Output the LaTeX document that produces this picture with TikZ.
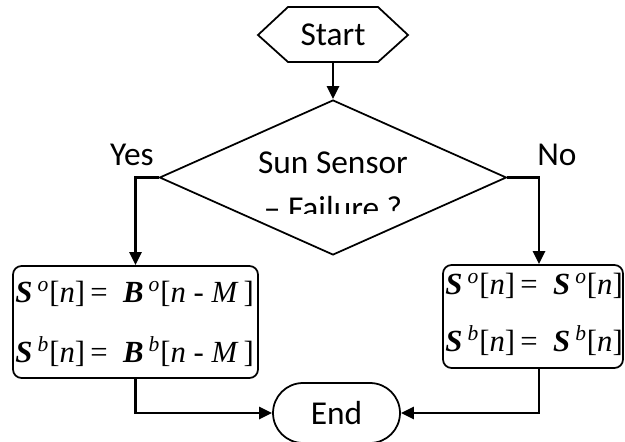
\documentclass[tikz,border=0pt]{standalone}
\usepackage{fontspec}
\setmainfont{Carlito}
\newfontfamily\tnr{Liberation Serif}
\usetikzlibrary{shapes.geometric,shapes.misc,arrows.meta}
\def\bi#1{\textbf{\textit{#1}}}
\def\supr#1{\textsuperscript{\textit{#1}}}
\tikzset{
  box/.style={draw,line width=1pt,rounded corners=0.17cm,inner sep=0pt},
  decision/.style={draw,diamond,line width=1pt,inner sep=0pt},
  term/.style={draw,rounded rectangle,line width=1pt,inner sep=0pt},
  arr/.style={line width=1.6pt,-{Triangle[length=0.26cm,width=0.24cm]}},
  eq/.style={font=\tnr\fontsize{17.5}{22}\selectfont,align=left,inner sep=0pt,anchor=west}
}
\begin{document}
\begin{tikzpicture}[x=0.02cm,y=-0.02cm,font=\fontsize{19}{22}\selectfont]
  \useasboundingbox (0,0) rectangle (625,442);
  % start
  \draw[line width=1pt] (258,35) -- (288,7) -- (378,7) -- (408,35) -- (378,62) -- (288,62) -- cycle;
  \node (start) at (333,35) {Start};
  \coordinate (startb) at (333,62);
  % decision
  \node[decision,minimum width=6.94cm,minimum height=3.1cm] (sensor) at (333,177.5) {};
  \node (q1) at (333,163) {Sun Sensor};
  \begin{scope}
    \clip (200,190) rectangle (470,214);
    \node (q2) at (333,208) {-- Failure ?};
  \end{scope}
  % updates
  \node[box,minimum width=4.9cm,minimum height=2.24cm] (hold) at (135.5,322) {};
  \node[eq] at ([xshift=0.06cm,yshift=-0.04cm]hold.west) {\bi{S}\,\supr{o}[\textit{n}]\,=\ \ \bi{B}\,\supr{o}[\textit{n} - \textit{M}\,]\\[0.42cm]
    \bi{S}\,\supr{b}[\textit{n}]\,=\ \ \bi{B}\,\supr{b}[\textit{n} - \textit{M}\,]};
  \node[box,minimum width=3.6cm,minimum height=2.06cm] (keep) at (533,316.5) {};
  \node[eq] at ([xshift=0.06cm,yshift=0.04cm]keep.west) {\bi{S}\,\supr{o}[\textit{n}]\,=\ \ \bi{S}\,\supr{o}[\textit{n}]\\[0.36cm]
    \bi{S}\,\supr{b}[\textit{n}]\,=\ \ \bi{S}\,\supr{b}[\textit{n}]};
  % end
  \node[term,minimum width=2.54cm,minimum height=1.2cm] (end) at (336.5,413) {End};
  % connectors
  \draw[arr] (startb) -- (sensor.north);
  \draw[arr] (sensor.west) -| (hold.north);
  \draw[arr] (sensor.east) -| ([xshift=0.12cm]keep.north);
  \draw[arr] (hold.south) |- (end.west);
  \draw[arr] ([xshift=0.12cm]keep.south) |- (end.east);
  \node (yes) at (132,155) {Yes};
  \node (no) at (557,155) {No};
\end{tikzpicture}
\end{document}
